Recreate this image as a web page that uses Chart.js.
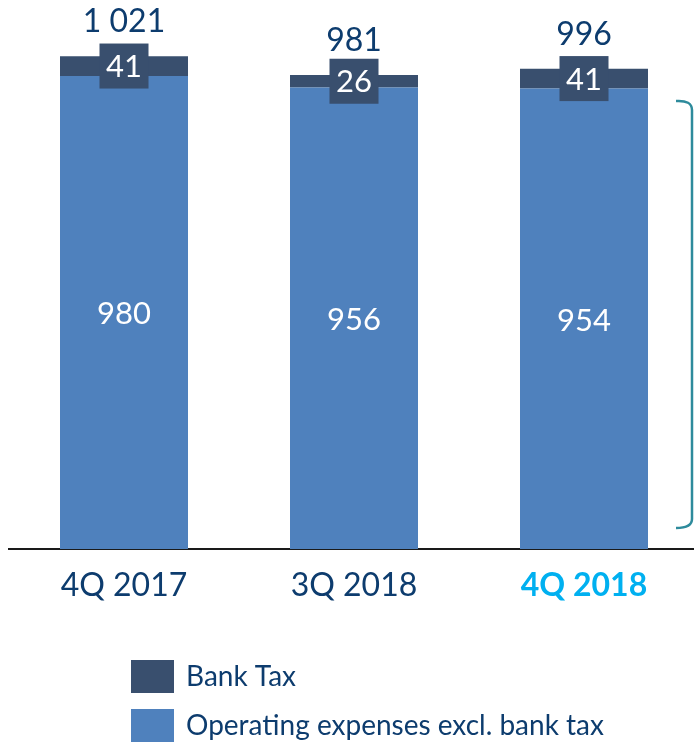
<!DOCTYPE html>
<html><head><meta charset="utf-8">
<style>html,body{margin:0;padding:0;overflow:hidden;background:#fff;width:694px;height:744px}
#wrap{width:700px;height:744px}</style>
<script src="https://cdn.jsdelivr.net/npm/chart.js@4/dist/chart.umd.min.js"></script>
</head><body><div id="wrap"><canvas id="c" width="700" height="744"></canvas></div>
<script>
const categories = ['4Q 2017', '3Q 2018', '4Q 2018'];
const opexExclBankTax = [980, 956, 954];
const bankTax = [41, 26, 41];
const totalLabels = ['1 021', '981', '996'];
const seriesNames = ['Operating expenses excl. bank tax', 'Bank Tax'];

const NAVY = '#0d3c6e';
const BLUE = '#4f81bd';
const DARK = '#394f6e';
const FONT = 'Lato, "Open Sans", sans-serif';

const labelPlugin = {
  id: 'labels',
  afterDatasetsDraw(chart) {
    const ctx = chart.ctx;
    ctx.save();
    ctx.textAlign = 'center';
    ctx.textBaseline = 'middle';
    const m0 = chart.getDatasetMeta(0), m1 = chart.getDatasetMeta(1);
    m0.data.forEach((bar, i) => {
      const p = bar.getProps(['x', 'y', 'base'], true);
      ctx.font = '31px ' + FONT;
      ctx.fillStyle = '#ffffff';
      ctx.fillText(String(chart.data.datasets[0].data[i]), p.x, (p.y + p.base) / 2 + 2);
    });
    m1.data.forEach((bar, i) => {
      const p = bar.getProps(['x', 'y', 'base'], true);
      const cy = (p.y + p.base) / 2;
      ctx.fillStyle = DARK;
      ctx.fillRect(p.x - 24.5, cy - 22.5, 49, 45);
      ctx.font = '31px ' + FONT;
      ctx.fillStyle = '#ffffff';
      ctx.fillText(String(chart.data.datasets[1].data[i]), p.x, cy + 1);
      ctx.font = '32px ' + FONT;
      ctx.fillStyle = NAVY;
      ctx.fillText(totalLabels[i], p.x, p.y - 34);
    });
    ctx.restore();
  },
  afterDraw(chart) {
    const ctx = chart.ctx;
    ctx.save();
    // legend
    const items = [1, 0];
    items.forEach((di, k) => {
      const ds = chart.data.datasets[di];
      const y = 660 + k * 49;
      ctx.fillStyle = ds.backgroundColor;
      ctx.fillRect(131, y, 43, 33);
      ctx.font = '28px ' + FONT;
      ctx.fillStyle = NAVY;
      ctx.textAlign = 'left';
      ctx.textBaseline = 'middle';
      ctx.fillText(ds.label, 186, y + 17);
    });
    // bracket
    ctx.strokeStyle = '#2e8b9c';
    ctx.lineWidth = 2.5;
    ctx.beginPath();
    ctx.moveTo(676, 101);
    ctx.quadraticCurveTo(692, 100, 692, 110);
    ctx.lineTo(692, 519);
    ctx.quadraticCurveTo(692, 528, 676, 528);
    ctx.stroke();
    ctx.restore();
  }
};

new Chart(document.getElementById('c'), {
  type: 'bar',
  data: {
    labels: categories,
    datasets: [
      { label: seriesNames[0], data: opexExclBankTax, backgroundColor: BLUE, stack: 's' },
      { label: seriesNames[1], data: bankTax, backgroundColor: DARK, stack: 's' }
    ]
  },
  options: {
    responsive: false,
    animation: false,
    devicePixelRatio: 1,
    layout: { padding: { top: 18, left: 9, right: 1, bottom: 122.6 } },
    datasets: { bar: { barPercentage: 128 / 230, categoryPercentage: 1 } },
    plugins: { legend: { display: false }, tooltip: { enabled: false } },
    scales: {
      x: {
        stacked: true,
        grid: { display: false, drawTicks: false, tickLength: 0 },
        border: { display: true, color: '#1a1a1a', width: 2 },
        ticks: {
          padding: 17,
          color: (c) => c.index === 2 ? '#00b0f0' : NAVY,
          font: (c) => ({ family: FONT, size: 32, weight: c.index === 2 ? 'bold' : 'normal' })
        }
      },
      y: { stacked: true, display: false, min: 0, max: 1100 }
    }
  },
  plugins: [labelPlugin]
});
</script></body></html>
